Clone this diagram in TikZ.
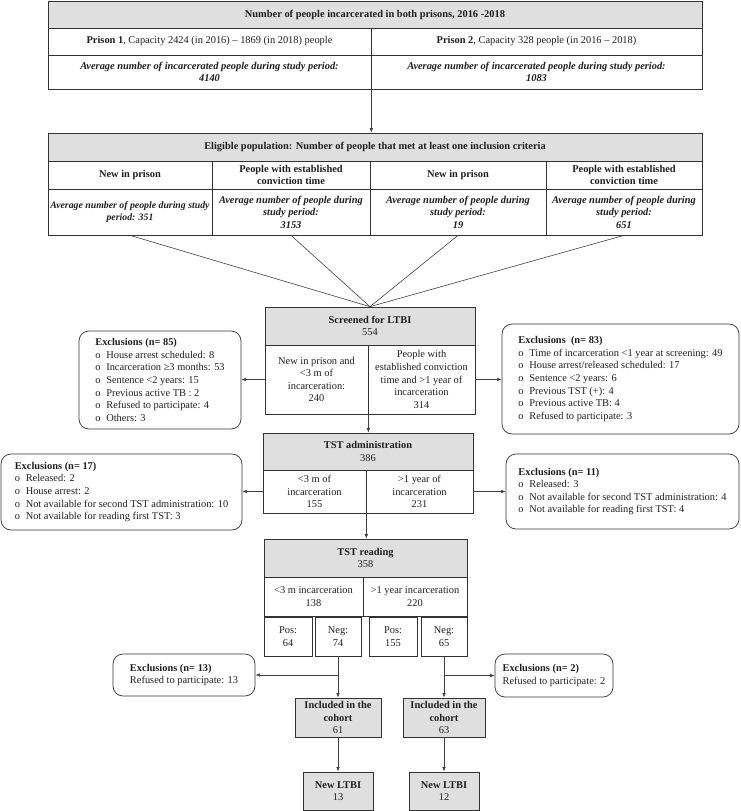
\documentclass[tikz,border=0pt]{standalone}
\usepackage{fontspec}
\setmainfont{Liberation Serif}
\usetikzlibrary{arrows.meta,calc}
\newcommand\exbullet{\makebox[11pt][l]{o}}
\newcommand\bx[7]{%
  \pgfmathsetmacro\bxcx{(#2+#4)/2}%
  \pgfmathsetmacro\bxcy{(#3+#5)/2}%
  \pgfmathsetmacro\bxw{#4-#2}%
  \pgfmathsetmacro\bxh{#5-#3}%
  \node[#6, minimum width=\bxw pt, minimum height=\bxh pt] (#1) at (\bxcx,\bxcy) {#7};}
\tikzset{
  base/.style={draw=black!80, line width=0.7pt, inner sep=1pt, align=center,
    font=\fontsize{10.4}{12.6}\selectfont, text=black!88},
  cell/.style={base},
  gcell/.style={base, fill=gray!25},
  bicell/.style={base, font=\fontsize{10.4}{12.6}\selectfont\bfseries\itshape},
  bcell/.style={base, font=\fontsize{10.4}{12.6}\selectfont\bfseries},
  excl/.style={base, rounded corners=10pt, align=left},
  conn/.style={draw=black!75, line width=0.6pt},
  arr/.style={conn, -{Latex[length=4.5pt,width=3.5pt]}},
}
\begin{document}
\begin{tikzpicture}[x=1pt,y=-1pt]
\useasboundingbox (0,0) rectangle (740,811);
% ---------- top table ----------
\bx{title}{48}{1}{702}{28}{gcell}{\textbf{Number of people incarcerated in both prisons, 2016 -2018}}
\bx{p1}{48}{28}{371}{55}{cell}{\textbf{Prison 1}, Capacity 2424 (in 2016) -- 1869 (in 2018) people}
\bx{p2}{371}{28}{702}{55}{cell}{\textbf{Prison 2}, Capacity 328 people (in 2016 -- 2018)}
\bx{a1}{48}{55}{371}{89}{bicell}{Average number of incarcerated people during study period:\\4140}
\bx{a2}{371}{55}{702}{89}{bicell}{Average number of incarcerated people during study period:\\1083}
% ---------- eligible table ----------
\bx{elig}{48}{133}{702}{161}{gcell}{\textbf{Eligible population: Number of people that met at least one inclusion criteria}}
\bx{h1}{48}{161}{212}{189}{bcell}{New in prison}
\bx{h2}{212}{161}{370}{189}{bcell}{People with established\\conviction time}
\bx{h3}{370}{161}{546}{189}{bcell}{New in prison}
\bx{h4}{546}{161}{702}{189}{bcell}{People with established\\conviction time}
\bx{v1}{48}{189}{212}{235}{bicell, inner xsep=0pt, font=\fontsize{9.8}{12.6}\selectfont\bfseries\itshape}{Average number of people during study\\period: 351}
\bx{v2}{212}{189}{370}{235}{bicell}{Average number of people during\\study period:\\3153}
\bx{v3}{370}{189}{546}{235}{bicell}{Average number of people during\\study period:\\19}
\bx{v4}{546}{189}{702}{235}{bicell}{Average number of people during\\study period:\\651}
\draw[arr] (a1.south east) -- (a1.south east |- elig.north);
% ---------- screened ----------
\bx{scr}{265}{307}{475}{345}{gcell}{\textbf{Screened for LTBI}\\554}
\bx{scrL}{265}{345}{368}{414}{cell}{New in prison and\\<3 m of\\incarceration:\\240}
\bx{scrR}{368}{345}{475}{414}{cell}{People with\\established conviction\\time and >1 year of\\incarceration\\314}
\foreach \v in {v1,v2,v3,v4} \draw[conn] (\v.south) -- (scr.north);
\bx{ex85}{79}{331}{241}{429}{excl}{\textbf{Exclusions (n= 85)}\\
\exbullet House arrest scheduled: 8\\
\exbullet Incarceration ≥3 months: 53\\
\exbullet Sentence <2 years: 15\\
\exbullet Previous active TB : 2\\
\exbullet Refused to participate: 4\\
\exbullet Others: 3}
\bx{ex83}{502}{324}{739}{434}{excl}{\textbf{Exclusions~ (n= 83)}\\
\exbullet Time of incarceration <1 year at screening: 49\\
\exbullet House arrest/released scheduled: 17\\
\exbullet Sentence <2 years: 6\\
\exbullet Previous TST (+): 4\\
\exbullet Previous active TB: 4\\
\exbullet Refused to participate: 3}
\draw[arr] (scrL.west) -- (scrL.west -| ex85.east);
\draw[arr] (scrR.east) -- (scrR.east -| ex83.west);
% ---------- TST administration ----------
\bx{adm}{263}{433}{473}{470}{gcell}{\textbf{TST administration}\\386}
\bx{admL}{263}{470}{366}{513}{cell}{<3 m of\\incarceration\\155}
\bx{admR}{366}{470}{473}{513}{cell}{>1 year of\\incarceration\\231}
\draw[arr] (scrL.south east) -- (scrL.south east |- adm.north);
\bx{ex17}{1}{454}{242}{530}{excl}{\textbf{Exclusions (n= 17)}\\
\exbullet Released: 2\\
\exbullet House arrest: 2\\
\exbullet Not available for second TST administration: 10\\
\exbullet Not available for reading first TST: 3}
\bx{ex11}{506}{454}{739}{529}{excl}{\textbf{Exclusions (n= 11)}\\
\exbullet Released: 3\\
\exbullet Not available for second TST administration: 4\\
\exbullet Not available for reading first TST: 4}
\draw[arr] (admL.west) -- (admL.west -| ex17.east);
\draw[arr] (admR.east) -- (admR.east -| ex11.west);
% ---------- TST reading ----------
\bx{read}{264}{539}{467}{577}{gcell}{\textbf{TST reading}\\358}
\bx{readL}{264}{577}{363}{616}{cell}{<3 m incarceration\\138}
\bx{readR}{363}{577}{467}{616}{cell}{>1 year incarceration\\220}
\draw[arr] (admL.south east) -- (admL.south east |- read.north);
\bx{pos1}{264}{617}{312}{656}{cell}{Pos:\\64}
\bx{neg1}{315}{617}{361}{656}{cell}{Neg:\\74}
\bx{pos2}{369}{617}{417}{656}{cell}{Pos:\\155}
\bx{neg2}{421}{617}{467}{656}{cell}{Neg:\\65}
% ---------- exclusions & cohort ----------
\bx{ex13}{113}{654}{255}{696}{excl}{\textbf{Exclusions (n= 13)}\\Refused to participate: 13}
\bx{ex2}{495}{654}{613}{697}{excl}{\textbf{Exclusions (n= 2)}\\Refused to participate: 2}
\bx{coh1}{295}{698}{381}{737}{gcell}{\textbf{Included in the}\\\textbf{cohort}\\61}
\bx{coh2}{403}{698}{485}{737}{gcell}{\textbf{Included in the}\\\textbf{cohort}\\63}
\coordinate (b1) at (neg1.south |- ex13.east);
\coordinate (b2) at (neg2.south |- ex2.west);
\draw[arr] (neg1.south) -- (neg1.south |- coh1.north);
\draw[arr] (neg2.south) -- (neg2.south |- coh2.north);
\draw[arr] (b1) -- (ex13.east);
\draw[arr] (b2) -- (ex2.west);
\bx{lt1}{303}{772}{373}{810}{gcell}{\textbf{New LTBI}\\13}
\bx{lt2}{409}{772}{479}{810}{gcell}{\textbf{New LTBI}\\12}
\draw[arr] (coh1.south) -- (coh1.south |- lt1.north);
\draw[arr] (coh2.south) -- (coh2.south |- lt2.north);
\end{tikzpicture}
\end{document}
